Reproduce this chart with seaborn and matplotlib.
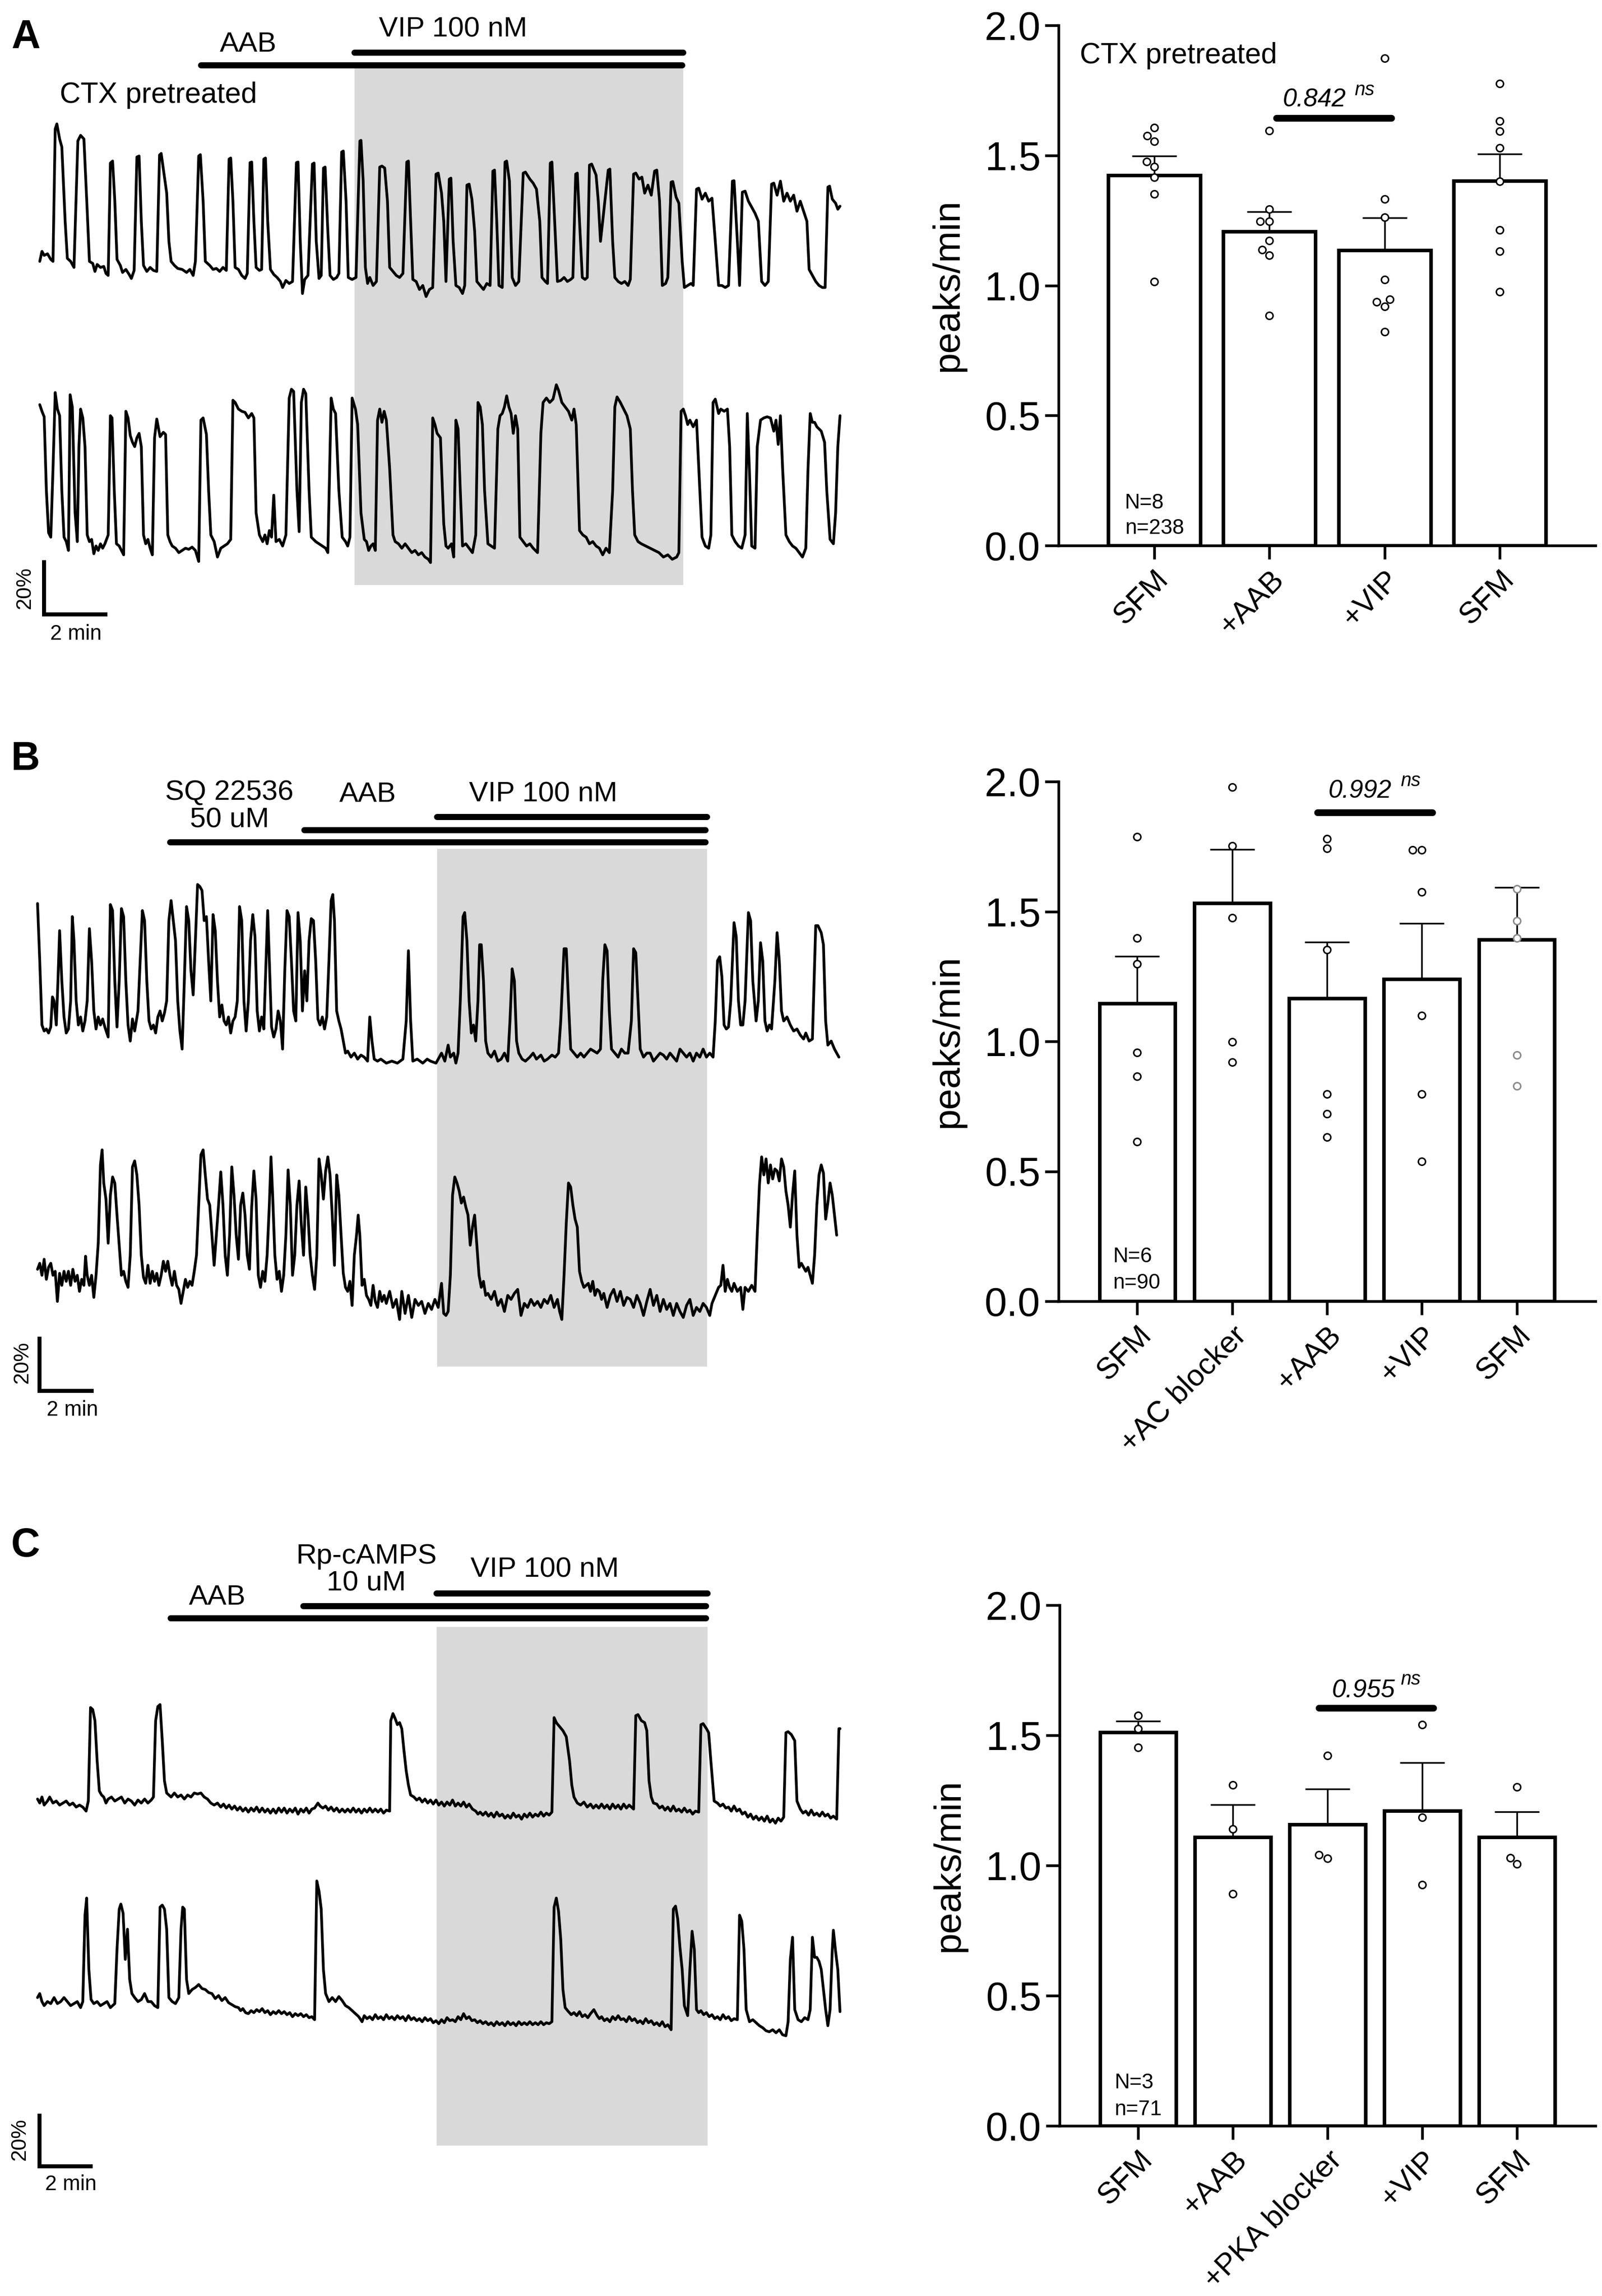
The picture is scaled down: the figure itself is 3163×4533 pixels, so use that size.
import numpy as np
import pandas as pd
import matplotlib
matplotlib.use("Agg")
import matplotlib.pyplot as plt
import seaborn as sns

sns.set_theme(style="ticks")
plt.rcParams['font.family'] = ['Liberation Sans', 'DejaVu Sans']
plt.rcParams['axes.edgecolor'] = 'black'
plt.rcParams['xtick.color'] = 'black'
plt.rcParams['ytick.color'] = 'black'
plt.rcParams['text.color'] = 'black'
plt.rcParams['axes.labelcolor'] = 'black'

W, H, DPI = 3163, 4533, 300

# ---------------------------------------------------------------- trace data
# (frame, raw fluorescence a.u.) keypoints read from the recordings
A1_TRACE = [(72,1350),(76,1400),(80,1380),(86,1388),(92,1360),(96,1350),
 (100,2010),(103,2035),(108,1960),(112,1920),(118,1550),(122,1365),(128,1350),(134,1320),
 (141,1950),(146,1978),(152,1960),(158,1600),(162,1350),(168,1340),(172,1300),(176,1335),(182,1320),(188,1325),(192,1290),(196,1280),
 (200,1840),(204,1850),(208,1650),(212,1360),(218,1330),(222,1295),(228,1310),(234,1285),(238,1265),(243,1305),
 (248,1870),(252,1875),(256,1550),(260,1330),(266,1300),(272,1320),(278,1305),(284,1300),
 (289,1880),(292,1888),(298,1770),(302,1690),(306,1450),(310,1350),(316,1330),(322,1315),(330,1310),(338,1295),(344,1310),(350,1280),(354,1350),
 (360,1875),(363,1882),(368,1650),(372,1350),(380,1330),(386,1310),(392,1315),(398,1300),(404,1320),(410,1305),
 (415,1860),(418,1865),(422,1650),(426,1320),(432,1310),(438,1280),(444,1265),(448,1290),
 (453,1842),(456,1845),(460,1550),(464,1320),(470,1305),(474,1310),
 (478,1860),(481,1865),(485,1550),(490,1310),(496,1285),(502,1270),(508,1250),(512,1220),(518,1255),(524,1240),(530,1250),
 (537,1842),(540,1845),(544,1450),(548,1190),(552,1260),(558,1280),
 (566,1835),(569,1840),(573,1450),(578,1265),(582,1280),
 (586,1815),(589,1820),(594,1500),(598,1280),(604,1260),(610,1270),(614,1290),
 (619,1895),(622,1900),(627,1650),(631,1270),(638,1260),(645,1270),
 (652,1950),(654,1953),(658,1750),(662,1320),(666,1240),(670,1270),(676,1230),(682,1250),
 (688,1820),(692,1825),(697,1815),(702,1650),(706,1320),(712,1300),(718,1280),(724,1270),(730,1290),
 (737,1845),(740,1850),(744,1550),(748,1260),(754,1250),(760,1210),(766,1230),(772,1175),(778,1210),(784,1220),
 (790,1785),(794,1790),(800,1690),(804,1550),(808,1250),
 (814,1760),(817,1765),(821,1450),(826,1230),(832,1220),(838,1190),(842,1230),
 (846,1730),(850,1735),(855,1660),(860,1500),(864,1250),(870,1230),(876,1210),(882,1240),(888,1230),
 (893,1800),(896,1805),(900,1550),(904,1230),(910,1220),
 (915,1845),(918,1850),(923,1750),(928,1270),(934,1230),(940,1250),
 (948,1790),(952,1795),(960,1760),(966,1740),(972,1710),(978,1550),(982,1270),(988,1250),(992,1240),
 (997,1840),(1000,1845),(1005,1550),(1010,1250),(1016,1255),(1022,1270),(1028,1250),(1034,1260),(1038,1270),
 (1043,1785),(1046,1790),(1050,1550),(1055,1270),(1060,1260),(1064,1270),
 (1068,1830),(1072,1835),(1080,1780),(1084,1650),(1088,1450),(1092,1550),(1102,1805),(1105,1810),(1110,1450),(1114,1270),(1120,1250),(1126,1240),(1132,1250),(1138,1230),(1142,1260),
 (1148,1785),(1152,1790),(1158,1760),(1163,1770),(1168,1690),(1174,1730),(1180,1680),(1186,1800),(1190,1805),(1195,1650),(1200,1230),(1206,1240),(1210,1270),
 (1216,1745),(1219,1748),(1225,1670),(1230,1640),(1236,1350),(1240,1220),(1246,1230),(1252,1240),(1256,1230),
 (1262,1710),(1266,1715),(1272,1660),(1278,1690),(1284,1650),(1290,1665),(1296,1450),(1302,1230),(1308,1230),(1314,1220),(1320,1230),
 (1327,1750),(1330,1752),(1336,1450),(1340,1230),
 (1345,1695),(1350,1700),(1356,1650),(1362,1620),(1368,1590),(1374,1550),(1380,1250),(1386,1230),(1392,1250),
 (1398,1735),(1402,1740),(1408,1680),(1414,1750),(1420,1650),(1426,1690),(1432,1650),(1438,1680),(1444,1600),(1450,1650),(1456,1600),(1462,1550),(1466,1310),(1472,1280),(1478,1250),(1484,1230),(1490,1220),(1495,1220),
 (1500,1720),(1503,1725),(1508,1660),(1514,1640),(1518,1610),(1522,1625)]

A2_TRACE = [(72,1890),(76,1860),(80,1835),(84,1500),(88,1310),(92,1290),(96,1600),(100,1945),(104,1870),(108,1840),(112,1500),(116,1290),(120,1270),(124,1230),
 (127,1935),(131,1880),(136,1400),(140,1270),(143,1700),(146,1870),(150,1830),(154,1700),(158,1300),(162,1270),(166,1280),(170,1215),(174,1250),(178,1230),(182,1260),(186,1240),(190,1260),(196,1300),
 (200,1840),(203,1830),(207,1500),(211,1260),(216,1250),(220,1230),(224,1210),(228,1860),(232,1830),(236,1750),(240,1720),(244,1700),(248,1740),(252,1760),(256,1700),(260,1300),(264,1260),(268,1280),(272,1240),(276,1210),
 (280,1740),(284,1825),(290,1745),(296,1765),(300,1755),(304,1300),(308,1270),(312,1250),(318,1240),(324,1220),(330,1230),(336,1240),(342,1235),(348,1245),(354,1230),(360,1180),
 (364,1820),(368,1830),(374,1755),(378,1500),(382,1300),(388,1270),(394,1200),(400,1240),(406,1250),(412,1260),(418,1280),
 (422,1910),(426,1900),(432,1870),(438,1860),(444,1855),(450,1830),(456,1850),(460,1830),(464,1400),(470,1300),(476,1270),(480,1300),(484,1260),(488,1320),(492,1290),(496,1480),(500,1270),(506,1280),(512,1250),(518,1300),
 (524,1920),(528,1960),(532,1950),(538,1500),(542,1315),(546,1900),(550,1960),(554,1940),(560,1500),(564,1290),(568,1280),(572,1270),(578,1260),(584,1250),(590,1240),(594,1220),
 (600,1920),(604,1870),(608,1850),(614,1500),(620,1290),(626,1270),(630,1250),(634,1290),(638,1920),(644,1870),(648,1800),(654,1400),(660,1280),(664,1270),(668,1230),(672,1250),(676,1260),(680,1230),
 (684,1820),(688,1870),(692,1810),(696,1860),(700,1820),(706,1600),(712,1300),(716,1270),(722,1260),(728,1240),(734,1260),(740,1240),(746,1220),(752,1230),(758,1210),(764,1220),(770,1200),(776,1190),(780,1175),
 (784,1830),(788,1800),(792,1760),(798,1740),(804,1350),(808,1250),(812,1240),(818,1260),(822,1200),(826,1820),(830,1780),(834,1500),(838,1250),(844,1260),(850,1240),(856,1220),(862,1300),
 (866,1900),(870,1880),(874,1800),(878,1500),(884,1260),(890,1250),(896,1240),(902,1780),(906,1840),(910,1850),(914,1880),(918,1930),(922,1880),(926,1850),(930,1760),(934,1840),(938,1780),(942,1290),(948,1270),(954,1250),(960,1260),(966,1240),(970,1230),(974,1220),
 (980,1760),(984,1900),(990,1920),(996,1900),(1002,1915),(1008,1980),(1012,1955),(1018,1900),(1024,1880),(1030,1860),(1036,1820),(1040,1870),(1044,1800),(1050,1320),(1056,1300),(1062,1290),(1068,1260),(1074,1270),(1080,1250),(1086,1240),(1092,1210),(1098,1240),(1104,1220),
 (1110,1500),(1114,1880),(1118,1925),(1124,1900),(1130,1870),(1136,1840),(1142,1780),(1146,1500),(1150,1300),(1156,1270),(1162,1260),(1170,1250),(1178,1240),(1186,1230),(1194,1220),(1202,1200),(1210,1210),(1218,1190),(1226,1200),(1230,1220),
 (1234,1860),(1238,1870),(1242,1840),(1246,1800),(1250,1820),(1256,1790),(1262,1820),(1268,1500),(1272,1290),(1278,1250),(1284,1240),(1288,1300),
 (1292,1900),(1296,1915),(1302,1850),(1306,1870),(1312,1860),(1318,1870),(1322,1700),(1326,1300),(1332,1270),(1338,1250),(1344,1240),(1350,1300),(1354,1850),(1358,1580),(1362,1250),(1368,1240),
 (1372,1700),(1378,1820),(1384,1830),(1390,1835),(1396,1830),(1402,1770),(1406,1820),(1410,1710),(1414,1840),(1418,1600),(1424,1300),(1430,1270),(1436,1250),(1442,1240),(1448,1220),(1454,1200),(1460,1240),
 (1464,1600),(1468,1850),(1472,1810),(1476,1810),(1480,1790),(1484,1780),(1488,1770),(1494,1720),(1498,1500),(1504,1280),(1510,1260),(1514,1400),(1518,1700),(1522,1840)]

B1_TRACE = [(68,1835),(72,1550),(76,1230),(80,1200),(84,1210),(88,1190),(92,1220),(95,1370),(98,1350),(102,1230),(105,1450),(108,1700),(112,1450),(116,1270),(120,1190),(124,1210),(128,1350),
 (131,1770),(134,1650),(138,1350),(142,1230),(146,1270),(150,1200),(154,1250),(158,1350),(162,1710),(166,1550),(170,1300),(174,1210),(178,1270),(182,1230),(186,1260),(190,1220),(196,1170),
 (200,1830),(204,1800),(208,1450),(212,1220),(216,1450),(220,1810),(224,1770),(228,1450),(232,1230),(236,1150),(240,1260),(244,1200),(250,1300),(254,1550),(258,1800),(262,1750),(266,1450),(270,1250),
 (274,1210),(278,1230),(282,1190),(286,1270),(290,1300),(294,1250),(298,1290),(302,1350),(306,1750),(310,1850),(314,1750),(318,1650),(322,1350),(326,1200),(330,1110),(334,1450),(338,1820),(342,1750),
 (346,1500),(350,1380),(354,1650),(358,1930),(362,1920),(366,1900),(370,1750),(374,1770),(378,1550),(382,1350),(386,1780),(390,1700),(394,1450),(398,1270),(402,1330),(406,1250),(410,1230),(414,1270),
 (418,1190),(422,1250),(426,1270),(430,1350),(434,1820),(438,1750),(442,1350),(446,1200),(450,1350),(454,1650),(458,1780),(462,1670),(466,1300),(470,1200),(474,1270),(478,1210),(482,1550),(485,1800),
 (488,1550),(492,1220),(496,1170),(500,1210),(504,1300),(508,1250),(512,1110),(516,1500),(520,1800),(524,1770),(528,1550),(532,1300),(536,1250),(540,1790),(544,1650),(548,1300),(552,1500),(556,1350),
 (560,1650),(564,1760),(568,1750),(572,1550),(576,1260),(580,1230),(584,1270),(588,1210),(592,1270),(596,1550),(600,1850),(603,1880),(606,1750),(610,1300),(614,1250),(618,1210),(622,1150),(626,1090),
 (630,1100),(636,1070),(642,1090),(648,1060),(654,1080),(660,1070),(666,1050),(670,1270),(674,1150),(678,1060),(684,1050),(690,1060),(700,1040),(710,1050),(720,1040),(730,1060),(736,1250),(740,1600),
 (744,1250),(748,1050),(756,1060),(766,1040),(774,1060),(780,1050),(790,1040),(796,1070),(800,1090),(806,1050),(812,1130),(816,1070),(822,1090),(826,1040),(830,1090),(834,1350),(839,1770),(842,1790),
 (846,1650),(850,1350),(854,1190),(858,1230),(862,1150),(866,1350),(869,1630),(872,1630),(876,1450),(880,1150),(884,1090),(890,1070),(896,1100),(902,1050),(908,1060),(914,1090),(920,1050),(924,1250),
 (928,1510),(932,1450),(936,1150),(940,1090),(946,1060),(952,1050),(960,1070),(966,1090),(972,1060),(980,1080),(986,1050),(992,1060),(1000,1080),(1006,1070),(1012,1090),(1016,1250),(1022,1610),
 (1026,1610),(1030,1350),(1034,1110),(1040,1090),(1046,1070),(1052,1090),(1058,1070),(1064,1090),(1070,1110),(1076,1100),(1082,1090),(1088,1110),(1092,1450),(1096,1630),(1100,1600),(1104,1300),
 (1108,1110),(1114,1090),(1120,1070),(1126,1110),(1132,1090),(1138,1090),(1144,1250),(1148,1610),(1152,1590),(1156,1350),(1160,1110),(1166,1070),(1172,1090),(1178,1090),(1184,1050),(1190,1070),
 (1196,1090),(1202,1080),(1208,1060),(1214,1090),(1220,1070),(1226,1050),(1232,1110),(1238,1090),(1244,1070),(1250,1090),(1256,1050),(1262,1090),(1268,1070),(1274,1110),(1280,1070),(1286,1090),
 (1292,1070),(1296,1250),(1300,1550),(1304,1570),(1308,1470),(1312,1230),(1316,1210),(1320,1220),(1324,1350),(1330,1740),(1334,1670),(1338,1350),(1342,1230),(1346,1230),(1350,1350),(1356,1790),
 (1360,1750),(1364,1450),(1370,1250),(1374,1350),(1378,1640),(1382,1550),(1386,1250),(1390,1200),(1394,1230),(1398,1210),(1404,1450),(1408,1690),(1412,1550),(1416,1300),(1420,1250),(1426,1270),
 (1432,1230),(1438,1200),(1444,1210),(1450,1180),(1456,1160),(1460,1190),(1466,1150),(1472,1160),(1478,1725),(1482,1725),(1488,1690),(1492,1630),(1496,1250),(1500,1130),(1506,1150),(1512,1110),
 (1516,1090),(1520,1070)]

B2_TRACE = [(68,1880),(72,1910),(76,1850),(80,1930),(84,1830),(88,1890),(92,1910),(96,1850),(100,1870),(104,1720),(108,1860),(112,1800),(116,1870),(120,1820),(124,1870),(128,1800),(132,1880),
 (136,1820),(140,1850),(144,1770),(148,1830),(152,1800),(155,1945),(158,1850),(162,1800),(166,1850),(170,1740),(174,1850),(178,2010),(182,2400),(185,2475),(188,2310),(192,2230),(196,2010),
 (200,2250),(204,2340),(208,2310),(212,2150),(216,2000),(220,1850),(224,1870),(228,1820),(232,1790),(236,1950),(240,2390),(244,2420),(248,2350),(252,2200),(256,1950),(260,1840),(264,1810),
 (268,1900),(272,1810),(276,1870),(280,1820),(284,1860),(288,1800),(292,1850),(296,1920),(300,1870),(304,1920),(308,1850),(312,1800),(316,1870),(320,1800),(324,1780),(328,1710),(332,1770),
 (336,1830),(340,1790),(344,1820),(348,1800),(352,1870),(356,1950),(360,2200),(364,2450),(368,2475),(372,2350),(376,2230),(380,2200),(384,2050),(388,1900),(392,2050),(396,2200),(400,2365),
 (404,2200),(408,1950),(412,1850),(416,2050),(420,2390),(424,2250),(428,2050),(432,1930),(436,2200),(440,2260),(444,2150),(448,1950),(452,1880),(456,2190),(460,2370),(464,2230),(468,1850),
 (472,1790),(476,1870),(480,1820),(484,1950),(488,2200),(491,2440),(494,2250),(498,1950),(502,1830),(506,1870),(510,1770),(514,1850),(518,2050),(522,2375),(526,2200),(530,1850),(534,1950),
 (538,2200),(542,2320),(546,2100),(550,1950),(554,2290),(558,2150),(562,1950),(566,1850),(570,1780),(574,1950),(578,2430),(582,2350),(586,2230),(590,2370),(594,2440),(598,2350),(602,2150),
 (606,1900),(610,2350),(614,2250),(618,2050),(622,1860),(626,1790),(630,1770),(634,1820),(638,1700),(642,1950),(646,2050),(649,2150),(652,2050),(656,1800),(660,1830),(664,1750),(668,1730),
 (672,1700),(676,1800),(680,1720),(684,1690),(688,1770),(692,1720),(696,1750),(700,1710),(706,1770),(712,1690),(718,1730),(724,1630),(728,1770),(734,1660),(740,1750),(746,1640),(752,1730),
 (758,1700),(764,1720),(770,1660),(776,1710),(782,1680),(788,1730),(794,1690),(800,1810),(804,1660),(808,1650),(812,1670),(816,1850),(820,2250),(824,2340),(828,2310),(832,2270),(836,2210),
 (840,2240),(844,2190),(848,2150),(852,2000),(856,2090),(860,2150),(864,2000),(868,1850),(872,1790),(876,1820),(880,1750),(884,1760),(890,1730),(896,1770),(902,1700),(908,1730),(914,1670),
 (920,1750),(926,1730),(932,1760),(938,1780),(944,1650),(950,1710),(956,1690),(962,1730),(968,1700),(974,1720),(980,1690),(986,1730),(992,1710),(998,1750),(1004,1690),(1010,1730),(1014,1670),
 (1018,1630),(1022,1850),(1026,2110),(1030,2310),(1034,2290),(1038,2200),(1042,2130),(1046,2090),(1050,1870),(1054,1820),(1058,1790),(1062,1800),(1066,1810),(1070,1770),(1074,1820),(1078,1750),
 (1082,1780),(1086,1770),(1090,1730),(1094,1760),(1100,1690),(1106,1750),(1112,1780),(1118,1720),(1124,1770),(1130,1700),(1136,1740),(1142,1730),(1148,1690),(1154,1750),(1160,1710),(1166,1650),
 (1172,1720),(1178,1780),(1184,1700),(1190,1750),(1196,1670),(1202,1730),(1208,1680),(1214,1710),(1220,1650),(1226,1710),(1232,1670),(1238,1640),(1244,1700),(1250,1730),(1256,1650),(1262,1690),
 (1268,1670),(1274,1710),(1280,1690),(1286,1650),(1290,1710),(1296,1750),(1302,1790),(1306,1800),(1310,1900),(1314,1770),(1318,1830),(1322,1790),(1326,1770),(1330,1810),(1336,1770),(1342,1790),
 (1346,1680),(1350,1790),(1356,1770),(1362,1800),(1368,1770),(1372,2050),(1376,2300),(1380,2440),(1384,2350),(1388,2430),(1392,2310),(1396,2400),(1400,2330),(1404,2380),(1408,2370),(1412,2320),
 (1416,2430),(1420,2390),(1424,2270),(1428,2200),(1432,2090),(1436,2250),(1440,2370),(1444,2050),(1448,1890),(1452,1910),(1456,1890),(1460,1870),(1464,1890),(1468,1850),(1472,1810),(1476,1950),
 (1480,2200),(1484,2350),(1488,2400),(1492,2360),(1496,2130),(1500,2210),(1504,2310),(1508,2250),(1512,2150),(1516,2050)]

C1_TRACE = [(68,1260),(72,1240),(76,1270),(80,1230),(86,1250),(90,1270),(96,1240),(102,1250),(108,1230),(114,1240),(120,1250),(126,1230),(132,1240),(138,1220),(144,1230),(150,1220),(156,1200),
 (160,1250),(164,1715),(168,1705),(172,1650),(176,1450),(180,1300),(184,1280),(188,1270),(192,1240),(196,1260),(202,1270),(208,1250),(214,1260),(220,1270),(226,1240),(232,1260),(238,1250),
 (244,1230),(250,1255),(256,1240),(262,1260),(268,1240),(274,1255),(278,1270),(282,1650),(286,1720),(290,1730),(294,1550),(298,1350),(302,1290),(306,1280),(310,1270),(316,1290),(322,1270),
 (328,1280),(334,1260),(340,1280),(346,1270),(352,1290),(358,1285),(364,1290),(370,1270),(376,1260),(382,1240),(388,1230),(394,1240),(400,1220),(405,1235),(410,1215),(415,1230),(420,1210),
 (425,1225),(430,1205),(435,1220),(440,1200),(445,1215),(450,1195),(455,1215),(460,1200),(465,1220),(470,1195),(475,1215),(480,1195),(485,1210),(490,1190),(495,1210),(500,1190),(505,1215),
 (510,1195),(515,1215),(520,1190),(525,1210),(530,1195),(535,1215),(540,1185),(545,1210),(550,1195),(555,1215),(560,1190),(565,1210),(570,1215),(576,1240),(580,1225),(585,1215),(590,1225),
 (595,1205),(600,1220),(605,1200),(610,1215),(615,1195),(620,1210),(625,1195),(630,1210),(635,1195),(640,1215),(645,1195),(650,1210),(655,1190),(660,1210),(665,1195),(670,1215),(675,1195),
 (680,1210),(685,1195),(690,1210),(695,1190),(700,1205),(706,1200),(708,1650),(712,1685),(716,1660),(720,1630),(724,1640),(728,1610),(732,1500),(736,1400),(740,1330),(744,1280),(750,1270),
 (755,1255),(760,1265),(765,1245),(770,1260),(775,1240),(780,1255),(785,1235),(790,1255),(795,1230),(800,1245),(805,1225),(810,1245),(815,1230),(820,1255),(825,1225),(830,1240),(835,1225),
 (840,1245),(845,1220),(850,1235),(856,1210),(862,1200),(866,1185),(870,1195),(875,1180),(880,1195),(885,1175),(890,1190),(895,1170),(900,1195),(905,1175),(910,1185),(915,1165),(920,1180),
 (925,1165),(930,1190),(935,1170),(940,1180),(945,1160),(950,1185),(955,1170),(960,1190),(965,1170),(970,1185),(975,1175),(980,1195),(985,1175),(990,1190),(995,1180),(1000,1195),(1004,1665),
 (1008,1640),(1014,1620),(1020,1600),(1026,1570),(1032,1450),(1036,1330),(1040,1270),(1046,1240),(1052,1230),(1058,1245),(1064,1220),(1070,1235),(1075,1215),(1080,1230),(1085,1215),(1090,1235),
 (1095,1215),(1100,1230),(1105,1210),(1110,1235),(1115,1215),(1120,1230),(1125,1210),(1130,1235),(1135,1215),(1140,1230),(1148,1210),(1152,1675),(1156,1680),(1162,1650),(1168,1640),(1172,1600),
 (1176,1350),(1180,1270),(1184,1240),(1190,1235),(1195,1215),(1200,1225),(1205,1205),(1210,1220),(1215,1200),(1220,1225),(1225,1200),(1230,1210),(1235,1195),(1240,1215),(1245,1195),(1250,1205),
 (1255,1185),(1260,1200),(1266,1195),(1270,1630),(1274,1635),(1280,1610),(1284,1590),(1288,1450),(1294,1250),(1300,1240),(1305,1225),(1310,1235),(1315,1215),(1320,1220),(1325,1200),(1330,1225),
 (1335,1200),(1340,1210),(1345,1185),(1350,1195),(1355,1170),(1360,1185),(1365,1160),(1370,1175),(1375,1155),(1380,1170),(1385,1150),(1390,1175),(1395,1145),(1400,1160),(1405,1140),(1410,1165),
 (1415,1150),(1420,1170),(1424,1590),(1428,1595),(1434,1580),(1440,1550),(1444,1250),(1450,1210),(1455,1190),(1460,1200),(1465,1180),(1470,1205),(1475,1180),(1480,1190),(1485,1175),(1490,1195),
 (1495,1175),(1500,1185),(1505,1165),(1510,1175),(1516,1160),(1520,1610),(1522,1610)]

C2_TRACE = [(68,1910),(72,1930),(76,1890),(80,1870),(86,1890),(92,1880),(98,1910),(104,1880),(110,1890),(116,1910),(122,1890),(128,1870),(134,1880),(140,1890),(146,1860),(150,1890),(154,2320),
 (157,2405),(161,2050),(165,1900),(170,1880),(176,1890),(182,1870),(188,1880),(194,1890),(200,1860),(204,1870),(208,1880),(212,2150),(216,2350),(219,2375),(223,2330),(227,2100),(231,2250),
 (235,2000),(239,1930),(244,1910),(250,1890),(256,1900),(262,1930),(268,1890),(274,1890),(280,1870),(286,1860),(290,2360),(294,2370),(298,2350),(302,2250),(306,1910),(312,1890),(318,1880),
 (324,1910),(328,2250),(331,2360),(334,2350),(338,2000),(342,1930),(348,1950),(354,1960),(360,1975),(366,1955),(372,1950),(378,1935),(384,1930),(390,1905),(396,1920),(402,1895),(408,1910),
 (414,1885),(420,1875),(426,1865),(432,1860),(436,1845),(440,1855),(445,1835),(450,1830),(455,1845),(460,1835),(465,1850),(470,1840),(475,1855),(480,1835),(485,1845),(490,1825),(495,1840),
 (500,1830),(505,1845),(510,1830),(515,1840),(520,1825),(525,1835),(530,1815),(535,1830),(540,1820),(545,1830),(550,1815),(555,1825),(560,1810),(565,1815),(570,1800),(574,2490),(578,2440),
 (582,2350),(586,2050),(590,1930),(596,1890),(602,1910),(608,1890),(614,1915),(620,1895),(626,1870),(632,1860),(638,1845),(644,1830),(650,1815),(656,1790),(660,1820),(665,1805),(670,1815),
 (675,1800),(680,1825),(685,1805),(690,1815),(695,1800),(700,1825),(705,1805),(710,1815),(715,1800),(720,1820),(725,1805),(730,1815),(735,1795),(740,1820),(745,1800),(750,1810),(755,1795),
 (760,1805),(765,1790),(770,1810),(775,1795),(780,1805),(785,1785),(790,1795),(795,1780),(800,1800),(805,1785),(810,1810),(815,1795),(820,1800),(825,1790),(830,1815),(835,1800),(840,1830),
 (845,1805),(850,1815),(855,1795),(860,1800),(865,1785),(870,1795),(875,1780),(880,1790),(885,1775),(890,1785),(895,1770),(900,1790),(905,1775),(910,1785),(915,1770),(920,1790),(925,1775),
 (930,1785),(935,1770),(940,1790),(945,1775),(950,1785),(955,1775),(960,1790),(965,1775),(970,1785),(975,1775),(980,1790),(985,1775),(990,1785),(995,1780),(1000,1790),(1004,2360),(1008,2405),
 (1012,2340),(1016,2200),(1020,1950),(1024,1860),(1030,1840),(1035,1825),(1040,1835),(1045,1820),(1050,1840),(1055,1815),(1060,1825),(1065,1810),(1070,1830),(1076,1850),(1082,1820),(1086,1805),
 (1090,1815),(1095,1795),(1100,1805),(1105,1790),(1110,1815),(1115,1800),(1120,1820),(1125,1800),(1130,1805),(1135,1790),(1140,1815),(1145,1795),(1150,1805),(1155,1785),(1160,1795),(1165,1780),
 (1170,1805),(1175,1785),(1180,1795),(1185,1775),(1190,1785),(1195,1770),(1200,1790),(1205,1765),(1210,1775),(1216,1750),(1220,2350),(1224,2365),(1228,2300),(1232,2160),(1236,2050),(1240,1870),
 (1246,1820),(1250,2050),(1254,2240),(1258,2150),(1262,1850),(1266,1835),(1270,1845),(1275,1825),(1280,1835),(1285,1815),(1290,1825),(1295,1805),(1300,1815),(1305,1800),(1310,1825),(1315,1805),
 (1320,1815),(1325,1795),(1330,1805),(1336,1800),(1340,2320),(1344,2290),(1348,2150),(1352,1850),(1358,1790),(1364,1800),(1370,1785),(1376,1770),(1382,1760),(1388,1745),(1394,1740),(1400,1750),
 (1406,1735),(1412,1750),(1418,1725),(1424,1720),(1428,1790),(1432,2100),(1436,2210),(1440,1850),(1446,1800),(1452,1790),(1458,1810),(1464,1800),(1468,1850),(1472,2210),(1476,2110),(1480,2110),
 (1484,2090),(1488,2050),(1492,1950),(1496,1850),(1500,1770),(1504,1850),(1508,2150),(1510,2245),(1514,2140),(1518,2050),(1522,1840)]

# baseline fluorescence (a.u.) of each cell, used for dF/F
F0 = {'A1': 1350, 'A2': 1227, 'B1': 1350, 'B2': 1350, 'C1': 1310, 'C2': 1310}
# acquisition: first frame and minutes per frame for each recording
FRAME0 = {'A': 72, 'B': 68, 'C': 68}
FRAME_MIN = {'A': 0.017435, 'B': 0.020368, 'C': 0.020756}

# drug application periods (min): label, start, end
DRUGS_A = [("AAB", 5.1, 20.3), ("VIP 100 nM", 9.95, 20.33)]
DRUGS_B = [("SQ 22536\n50 uM", 4.9, 24.65), ("AAB", 9.85, 24.65), ("VIP 100 nM", 14.75, 24.7)]
DRUGS_C = [("AAB", 5.0, 25.15), ("Rp-cAMPS\n10 uM", 10.0, 25.15), ("VIP 100 nM", 15.0, 25.2)]

# ---------------------------------------------------------------- bar data
A_GROUPS = ["SFM", "+AAB", "+VIP", "SFM"]
A_MEAN = [1.424, 1.208, 1.135, 1.403]
A_SEM = [0.073, 0.075, 0.125, 0.102]
A_PTS = [[1.606, 1.575, 1.554, 1.476, 1.457, 1.416, 1.351, 1.014],
         [1.594, 1.294, 1.246, 1.246, 1.173, 1.137, 1.116, 0.884],
         [1.873, 1.332, 1.262, 1.023, 0.947, 0.936, 0.920, 0.821],
         [1.776, 1.632, 1.593, 1.529, 1.400, 1.213, 1.132, 0.976]]
A_P = "0.842"
A_N = ("N=8", "n=238")

B_GROUPS = ["SFM", "+AC blocker", "+AAB", "+VIP", "SFM"]
B_MEAN = [1.147, 1.533, 1.166, 1.240, 1.392]
B_SEM = [0.180, 0.206, 0.217, 0.215, 0.201]
B_PTS = [[1.788, 1.397, 1.298, 0.957, 0.865, 0.614],
         [1.978, 1.752, 1.475, 0.999, 0.921],
         [1.779, 1.743, 1.352, 0.798, 0.722, 0.632],
         [1.736, 1.736, 1.576, 1.099, 0.798, 0.538],
         [1.587, 1.464, 1.397, 0.947, 0.829]]
B_P = "0.992"
B_N = ("N=6", "n=90")

C_GROUPS = ["SFM", "+AAB", "+PKA blocker", "+VIP", "SFM"]
C_MEAN = [1.511, 1.109, 1.157, 1.210, 1.109]
C_SEM = [0.043, 0.124, 0.137, 0.184, 0.097]
C_PTS = [[1.576, 1.526, 1.453],
         [1.310, 1.141, 0.891],
         [1.423, 1.040, 1.027],
         [1.541, 1.185, 0.927],
         [1.302, 1.029, 1.006]]
C_P = "0.955"
C_N = ("N=3", "n=71")

# ---------------------------------------------------------------- layout
fig = plt.figure(figsize=(W / DPI, H / DPI), dpi=DPI)

def px_axes(x0, y0, x1, y1):
    return fig.add_axes([x0 / W, 1 - y1 / H, (x1 - x0) / W, (y1 - y0) / H])

TRACE_LAYOUT = {
    'A': dict(rect=(0, 0, 1700, 1330), t0_px=78.5, ppm=62.5, zero_py=516.1, ppp=5.35,
              offsets=[0.0, -106.9], bar_y=[72.4, 77.0], shade=(-119.4, 71.2),
              texts=[("AAB", 6.58, 80.0), ("VIP 100 nM", 13.06, 85.6)],
              scale=dict(x=0.136, y=-130.3, lx=-0.47, ly=-120.4, tx=1.14, ty=-137.6)),
    'B': dict(rect=(0, 1440, 1700, 2830), t0_px=74.1, ppm=53.5, zero_py=1976.1, ppp=5.35,
              offsets=[0.0, -138.3], bar_y=[58.5, 63.0, 67.9], shade=(-135.0, 56.1),
              texts=[("SQ 22536\n50 uM", 7.08, 71.7), ("AAB", 12.18, 76.1), ("VIP 100 nM", 18.67, 76.1)],
              scale=dict(x=0.073, y=-143.9, lx=-0.56, ly=-133.4, tx=1.29, ty=-151.0)),
    'C': dict(rect=(0, 2990, 1700, 4400), t0_px=74.1, ppm=52.5, zero_py=3532.0, ppp=5.2,
              offsets=[0.0, -125.0], bar_y=[64.8, 69.4, 74.2], shade=(-135.4, 61.5),
              texts=[("AAB", 6.76, 72.7), ("Rp-cAMPS\n10 uM", 12.36, 83.1), ("VIP 100 nM", 19.07, 83.1)],
              scale=dict(x=0.074, y=-143.3, lx=-0.67, ly=-132.9, tx=1.26, ty=-150.2)),
}

TRACES = {'A': [('A1', A1_TRACE), ('A2', A2_TRACE)],
          'B': [('B1', B1_TRACE), ('B2', B2_TRACE)],
          'C': [('C1', C1_TRACE), ('C2', C2_TRACE)]}
DRUGS = {'A': DRUGS_A, 'B': DRUGS_B, 'C': DRUGS_C}

TXT = 13.5
for key, lay in TRACE_LAYOUT.items():
    x0, y0, x1, y1 = lay['rect']
    ax = px_axes(x0, y0, x1, y1)
    ax.set_xlim((x0 - lay['t0_px']) / lay['ppm'], (x1 - lay['t0_px']) / lay['ppm'])
    ax.set_ylim((lay['zero_py'] - y1) / lay['ppp'], (lay['zero_py'] - y0) / lay['ppp'])
    ax.axis('off')
    # shaded VIP window
    vip = DRUGS[key][-1]
    ax.fill_between([vip[1], vip[2]], lay['shade'][0], lay['shade'][1],
                    color='#d9d9d9', lw=0, zorder=0)
    # drug bars
    for (lab, s, e), yb in zip(DRUGS[key], lay['bar_y']):
        ax.plot([s, e], [yb, yb], color='black', lw=2.9, solid_capstyle='round', zorder=3)
    for lab, tx, ty in lay['texts']:
        ax.text(tx, ty, lab, ha='center', va='center', fontsize=TXT, linespacing=1.05)
    # traces
    for (name, tr), off in zip(TRACES[key], lay['offsets']):
        fr = np.array([p[0] for p in tr], dtype=float)
        f = np.array([p[1] for p in tr], dtype=float)
        t = (fr - FRAME0[key]) * FRAME_MIN[key]
        dff = (f - F0[name]) / F0[name] * 100 + off
        sns.lineplot(x=t, y=dff, ax=ax, color='black', linewidth=1.3,
                     sort=False, estimator=None, zorder=2)
    ax.set_xlabel('')
    ax.set_ylabel('')
    # scale bar: 2 min x 20 %
    sc = lay['scale']
    ax.plot([sc['x'], sc['x'], sc['x'] + 2.0], [sc['y'] + 20, sc['y'], sc['y']],
            color='black', lw=1.9, solid_joinstyle='miter', solid_capstyle='butt', zorder=3)
    ax.text(sc['lx'], sc['ly'], "20%", rotation=90, ha='center', va='center', fontsize=10)
    ax.text(sc['tx'], sc['ty'], "2 min", ha='center', va='center', fontsize=10)

# CTX label on trace A
fig.text(118 / W, 1 - 188 / H, "CTX pretreated", ha='left', va='center', fontsize=13.7)

# panel letters
for lab, by in [("A", 95), ("B", 1520), ("C", 3073)]:
    fig.text(22 / W, 1 - by / H, lab, ha='left', va='baseline', fontsize=19, fontweight='bold')

# ---------------------------------------------------------------- bar charts
BAR_LAYOUT = {
    'A': dict(rect=(2090, 50, 3150, 1077), sig=(1.06, 2.06, 1.643), ptxt=(1.39, 1.689), nstxt=(1.74, 1.732),
              ntxt=(-0.255, 0.143, 0.045), grey_last=False),
    'B': dict(rect=(2090, 1543, 3150, 2569), sig=(1.90, 3.11, 1.882), ptxt=(2.35, 1.937), nstxt=(2.775, 1.982),
              ntxt=(-0.257, 0.150, 0.049), grey_last=True),
    'C': dict(rect=(2092, 3169, 3150, 4197), sig=(1.91, 3.12, 1.606), ptxt=(2.38, 1.646), nstxt=(2.77, 1.694),
              ntxt=(-0.25, 0.143, 0.040), grey_last=False),
}
BARS = {'A': (A_GROUPS, A_MEAN, A_SEM, A_PTS, A_P, A_N),
        'B': (B_GROUPS, B_MEAN, B_SEM, B_PTS, B_P, B_N),
        'C': (C_GROUPS, C_MEAN, C_SEM, C_PTS, C_P, C_N)}

for key, lay in BAR_LAYOUT.items():
    groups, means, sems, pts, pval, ntext = BARS[key]
    n = len(groups)
    keys = [f"g{i}" for i in range(n)]
    ax = px_axes(*lay['rect'])
    sns.barplot(x=keys, y=means, order=keys, color='white', edgecolor='black',
                linewidth=1.7, width=0.8, saturation=1, errorbar=None, ax=ax, zorder=2)
    ax.errorbar(np.arange(n), means, yerr=[np.zeros(n), sems], fmt='none', ecolor='black',
                elinewidth=0.8, capsize=10.5, capthick=0.8, zorder=3)
    df = pd.DataFrame({'g': [keys[i] for i, p in enumerate(pts) for _ in p],
                       'v': [v for p in pts for v in p]})
    n_before = len(ax.collections)
    sns.swarmplot(data=df, x='g', y='v', order=keys, color='white', edgecolor='black',
                  linewidth=0.7, size=3.4, ax=ax, zorder=4)
    swarm = ax.collections[n_before:]
    if lay['grey_last'] and len(swarm) == n:
        swarm[-1].set_edgecolor('#8a8a8a')
    ax.set_xlim(-0.83, n - 0.17)
    ax.set_ylim(0, 2.0)
    ax.set_yticks([0, 0.5, 1.0, 1.5, 2.0])
    ax.set_yticklabels(["0.0", "0.5", "1.0", "1.5", "2.0"])
    ax.set_xticks(np.arange(n))
    ax.set_xticklabels(groups, rotation=45, ha='right', rotation_mode='anchor')
    ax.tick_params(axis='y', labelsize=19, length=6.5, width=1.3, pad=2)
    ax.tick_params(axis='x', labelsize=14.3, length=6.5, width=1.3, pad=3)
    ax.set_xlabel('')
    ax.set_ylabel("peaks/min", fontsize=18, va='center')
    ax.yaxis.set_label_coords(-0.206, 0.5)
    sns.despine(ax=ax)
    for s in ('left', 'bottom'):
        ax.spines[s].set_linewidth(1.3)
        ax.spines[s].set_color('black')
    ax.patch.set_alpha(0)
    # significance
    sx0, sx1, sy = lay['sig']
    ax.plot([sx0, sx1], [sy, sy], color='black', lw=3.2, solid_capstyle='round', clip_on=False, zorder=5)
    ax.text(lay['ptxt'][0], lay['ptxt'][1], pval, ha='center', va='baseline', fontsize=12, style='italic')
    ax.text(lay['nstxt'][0], lay['nstxt'][1], "ns", ha='left', va='baseline', fontsize=9, style='italic')
    nx, ny1, ny2 = lay['ntxt']
    ax.text(nx, ny1, ntext[0], ha='left', va='baseline', fontsize=10, zorder=6)
    ax.text(nx, ny2, ntext[1], ha='left', va='baseline', fontsize=10, zorder=6)
    if key == 'A':
        ax.text(-0.647, 1.854, "CTX pretreated", ha='left', va='baseline', fontsize=13.7)

fig.savefig("out.png", dpi=DPI)
